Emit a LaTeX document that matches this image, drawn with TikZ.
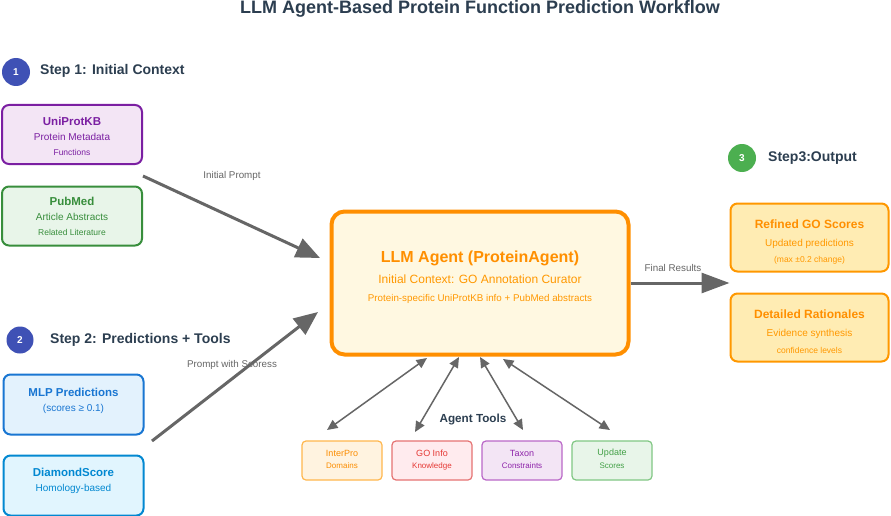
\documentclass[tikz,border=0pt]{standalone}
\usepackage{fontspec}
\setmainfont{Liberation Sans}
\usetikzlibrary{arrows.meta,calc}
\definecolor{dark}{HTML}{2C3E50}
\definecolor{indigo}{HTML}{3F51B5}
\definecolor{stepgreen}{HTML}{4CAF50}
\definecolor{purp}{HTML}{7B1FA2}\definecolor{purpf}{HTML}{F3E5F5}
\definecolor{grn}{HTML}{388E3C}\definecolor{grnf}{HTML}{E8F5E9}
\definecolor{blu}{HTML}{1976D2}\definecolor{bluf}{HTML}{E3F2FD}
\definecolor{lblu}{HTML}{0288D1}\definecolor{lbluf}{HTML}{E1F5FE}
\definecolor{agentb}{HTML}{FF8F00}\definecolor{agentf}{HTML}{FFF8E1}
\definecolor{agentt}{HTML}{FF9800}
\definecolor{outf}{HTML}{FFECB3}\definecolor{outb}{HTML}{FF9800}
\definecolor{ipb}{HTML}{FFB74D}\definecolor{ipf}{HTML}{FFF3E0}\definecolor{ipt}{HTML}{FB8C00}
\definecolor{gob}{HTML}{E57373}\definecolor{gof}{HTML}{FFEBEE}\definecolor{got}{HTML}{E53935}
\definecolor{txb}{HTML}{BA68C8}\definecolor{txf}{HTML}{F3E5F5}\definecolor{txt}{HTML}{8E24AA}
\definecolor{upb}{HTML}{81C784}\definecolor{upf}{HTML}{E8F5E9}\definecolor{upt}{HTML}{43A047}
\definecolor{arr}{HTML}{666666}
\tikzset{
  srcbox/.style={draw, line width=2pt, rounded corners=7pt, minimum width=140pt, minimum height=59pt, inner sep=0pt},
  outbox/.style={draw=outb, fill=outf, line width=2pt, rounded corners=7pt, minimum width=158pt, minimum height=68pt, inner sep=0pt},
  toolbox/.style={draw, line width=1.2pt, rounded corners=4pt, minimum width=80pt, minimum height=39pt, inner sep=0pt},
  stepnum/.style={circle, inner sep=0pt, minimum size=28pt, text=white, font=\bfseries\fontsize{10}{11}\selectfont},
  steplbl/.style={anchor=west, text=dark, font=\bfseries\fontsize{14}{16}\selectfont, inner sep=0pt},
  ttl/.style={font=\bfseries\fontsize{11.5}{13}\selectfont, inner sep=0pt},
  sub/.style={font=\fontsize{10}{11}\selectfont, inner sep=0pt},
  subsm/.style={font=\fontsize{8.5}{10}\selectfont, inner sep=0pt},
  tooltop/.style={font=\fontsize{9}{10}\selectfont, inner sep=0pt},
  toolbot/.style={font=\fontsize{8}{9}\selectfont, inner sep=0pt},
  bigarrow/.style={draw=arr, line width=3pt, -{Triangle[length=24pt,width=20pt]}},
  toolarrow/.style={draw=arr, line width=1.5pt, {Triangle[length=10.5pt,width=9.5pt]}-{Triangle[length=10.5pt,width=9.5pt]}},
  arlbl/.style={text=arr, font=\fontsize{9.8}{11}\selectfont, inner sep=0pt},
}
\begin{document}
\begin{tikzpicture}[x=1pt,y=-1pt]
\useasboundingbox[fill=white] (0,0) rectangle (891,516);
% title
\node[text=dark, font=\bfseries\fontsize{18}{20}\selectfont, inner sep=0pt] (title) at (480,8.5) {LLM Agent-Based Protein Function Prediction Workflow};
% step 1
\node[stepnum, fill=indigo] (s1) at (16,72) {1};
\node[steplbl] (s1l) at (40,71) {Step 1: Initial Context};
\node[srcbox, draw=purp, fill=purpf] (uni) at (72,134.5) {};
\node[ttl, text=purp] (unit) at (72,121) {UniProtKB};
\node[sub, text=purp] (unis) at (72,137) {Protein Metadata};
\node[subsm, text=purp] (unif) at (72,152) {Functions};
\node[srcbox, draw=grn, fill=grnf] (pub) at (72,216) {};
\node[ttl, text=grn] (pubt) at (72,201) {PubMed};
\node[sub, text=grn] (pubs) at (72,216.5) {Article Abstracts};
\node[subsm, text=grn] (pubf) at (72,232) {Related Literature};
% step 2
\node[stepnum, fill=indigo, minimum size=27pt] (s2) at (20,340) {2};
\node[steplbl] (s2l) at (50,340) {Step 2: Predictions + Tools};
\node[srcbox, draw=blu, fill=bluf, minimum height=60pt] (mlp) at (73.5,404.5) {};
\node[ttl, text=blu] (mlpt) at (73.5,392) {MLP Predictions};
\node[sub, text=blu] (mlps) at (73.5,409) {(scores ≥ 0.1)};
\node[srcbox, draw=lblu, fill=lbluf, minimum height=60pt] (dia) at (73.5,485.5) {};
\node[ttl, text=lblu] (diat) at (73.5,472) {DiamondScore};
\node[sub, text=lblu] (dias) at (73.5,489) {Homology-based};
% agent
\node[draw=agentb, fill=agentf, line width=4pt, rounded corners=13pt, minimum width=297pt, minimum height=143pt, inner sep=0pt] (agent) at (480,283) {};
\node[text=agentb, font=\bfseries\fontsize{16}{18}\selectfont, inner sep=0pt] (agt) at (480,258) {LLM Agent (ProteinAgent)};
\node[text=agentt, font=\fontsize{12}{14}\selectfont, inner sep=0pt] (ags) at (480,279) {Initial Context: GO Annotation Curator};
\node[text=agentt, font=\fontsize{9.8}{11}\selectfont, inner sep=0pt] (agf) at (480,299) {Protein-specific UniProtKB info + PubMed abstracts};
% step 3
\node[stepnum, fill=stepgreen] (s3) at (742,158) {3};
\node[steplbl] (s3l) at (768,158) {Step3:Output};
\node[outbox] (ref) at (809.5,237.5) {};
\node[ttl, text=agentb, font=\bfseries\fontsize{12}{14}\selectfont] (reft) at (809.5,224) {Refined GO Scores};
\node[sub, text=agentt] (refs) at (809.5,244) {Updated predictions};
\node[subsm, text=agentt] (reff) at (809.5,260) {(max ±0.2 change)};
\node[outbox] (det) at (809.5,327.5) {};
\node[ttl, text=agentb, font=\bfseries\fontsize{12}{14}\selectfont] (dett) at (809.5,314) {Detailed Rationales};
\node[sub, text=agentt] (dets) at (809.5,334) {Evidence synthesis};
\node[subsm, text=agentt] (detf) at (809.5,350) {confidence levels};
% tools
\node[text=dark, font=\bfseries\fontsize{11.7}{13}\selectfont, inner sep=0pt] (tools) at (473,419) {Agent Tools};
\node[toolbox, draw=ipb, fill=ipf] (ip) at (342,460.5) {};
\node[tooltop, text=ipt] (ipt1) at (342,453) {InterPro};
\node[toolbot, text=ipt] (ipt2) at (342,466) {Domains};
\node[toolbox, draw=gob, fill=gof] (go) at (432,460.5) {};
\node[tooltop, text=got] (got1) at (432,453) {GO Info};
\node[toolbot, text=got] (got2) at (432,466) {Knowledge};
\node[toolbox, draw=txb, fill=txf] (tx) at (522,460.5) {};
\node[tooltop, text=txt] (txt1) at (522,453) {Taxon};
\node[toolbot, text=txt] (txt2) at (522,466) {Constraints};
\node[toolbox, draw=upb, fill=upf] (up) at (612,460.5) {};
\node[tooltop, text=upt] (upt1) at (612,453) {Update};
\node[toolbot, text=upt] (upt2) at (612,466) {Scores};
% connector endpoints
\coordinate (inA) at (143,176);
\coordinate (inB) at (152,441);
\coordinate (a1) at (427,358);
\coordinate (a2) at (459,357);
\coordinate (a3) at (480,357);
\coordinate (a4) at (503,359);
\coordinate (t1) at (327,430);
\coordinate (t2) at (415,432);
\coordinate (t3) at (523,430);
\coordinate (t4) at (610,430);
% arrows
\draw[bigarrow] (inA) -- (320,258);
\node[arlbl] (l1) at (232,176) {Initial Prompt};
\draw[bigarrow] (inB) -- (318,312);
\node[arlbl] (l2) at (232,365) {Prompt with Scoress};
\draw[draw=arr, line width=3pt, -{Triangle[length=28pt,width=20pt]}] (agent.east |- 0,283) -- (ref.west |- 0,283);
\node[arlbl] (l3) at (673,268) {Final Results};
\draw[toolarrow] (t1) -- (a1);
\draw[toolarrow] (t2) -- (a2);
\draw[toolarrow] (t3) -- (a3);
\draw[toolarrow] (t4) -- (a4);
\end{tikzpicture}
\end{document}
